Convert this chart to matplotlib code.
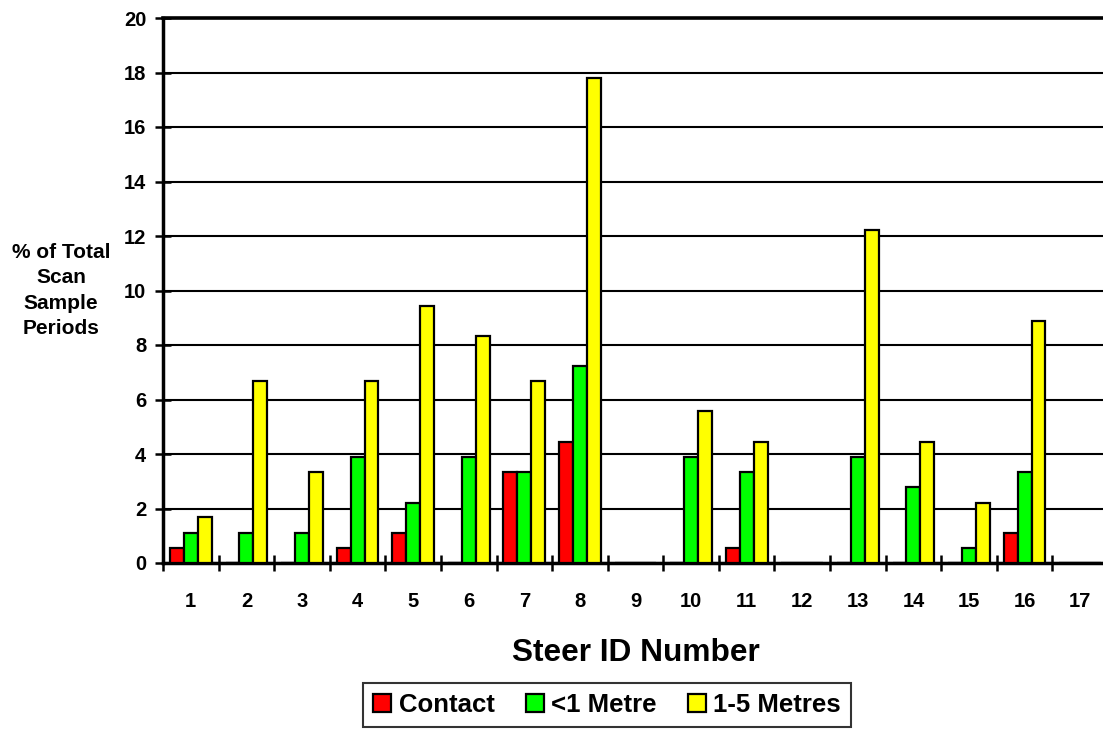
"""
    Steer proximity bar chart
"""
import numpy as np
import matplotlib.pyplot as plt
from matplotlib.ticker import MultipleLocator, FixedLocator

plt.rcParams['font.family'] = ['Liberation Sans', 'DejaVu Sans']
plt.rcParams['font.weight'] = 'bold'

steers = [str(i) for i in range(1, 18)]
contact = [0.56, 0, 0, 0.56, 1.11, 0, 3.33, 4.44, 0, 0, 0.56, 0, 0, 0, 0, 1.11, 0]
under_1m = [1.11, 1.11, 1.11, 3.89, 2.22, 3.89, 3.33, 7.22, 0, 3.89, 3.33, 0, 3.89, 2.78, 0.56, 3.33, 0]
one_to_5m = [1.67, 6.67, 3.33, 6.67, 9.44, 8.33, 6.67, 17.78, 0, 5.56, 4.44, 0, 12.22, 4.44, 2.22, 8.89, 0]

series = [("Contact", contact, "#FF0000"),
          ("<1 Metre", under_1m, "#00FF00"),
          ("1-5 Metres", one_to_5m, "#FFFF00")]

fig = plt.figure(figsize=(11.03, 7.29), dpi=100)
ax = fig.add_axes([163 / 1103, 1 - 563 / 729, 945 / 1103, 545 / 729])

x = np.arange(1, len(steers) + 1)
w = 0.25
for i, (name, vals, col) in enumerate(series):
    ax.bar(x + (i - 1) * w, vals, w, color=col, edgecolor="black", linewidth=1.6,
           label=name, zorder=3)

ax.set_xlim(0.5, len(steers) + 0.5)
ax.set_ylim(0, 20)
ax.yaxis.set_major_locator(MultipleLocator(2))
ax.yaxis.grid(True, color="black", linewidth=1.5, zorder=0)
ax.set_axisbelow(True)

ax.xaxis.set_major_locator(FixedLocator(x))
ax.set_xticklabels(steers)
ax.xaxis.set_minor_locator(FixedLocator(np.arange(0.5, len(steers) + 1, 1)))
ax.tick_params(axis="x", which="major", length=0, pad=21, labelsize=14.5)
ax.tick_params(axis="x", which="minor", direction="inout", length=12, width=1.8)
ax.tick_params(axis="y", direction="inout", length=12, width=1.8, pad=6, labelsize=14.5)

for side in ["left", "bottom"]:
    ax.spines[side].set_linewidth(2.5)
ax.spines["top"].set_linewidth(2.6)
ax.spines["right"].set_visible(False)

ax.set_xlabel("Steer ID Number", fontsize=22.8, fontweight="bold", labelpad=19)
ax.set_ylabel("% of Total\nScan\nSample\nPeriods", fontsize=15, fontweight="bold",
              rotation=0, ha="center", va="center", linespacing=1.42)
ax.yaxis.set_label_coords(-0.108, 0.5)

leg = fig.legend(loc="center", bbox_to_anchor=(607 / 1103, 1 - 705 / 729), ncol=3,
                 fontsize=18.5, frameon=True, fancybox=False, edgecolor="black",
                 handlelength=0.7, handleheight=0.7, handletextpad=0.3,
                 columnspacing=1.2, borderpad=0.4)
leg.get_frame().set_linewidth(1.5)
for t in leg.get_texts():
    t.set_fontweight("bold")

fig.savefig("out.png", dpi=100)
